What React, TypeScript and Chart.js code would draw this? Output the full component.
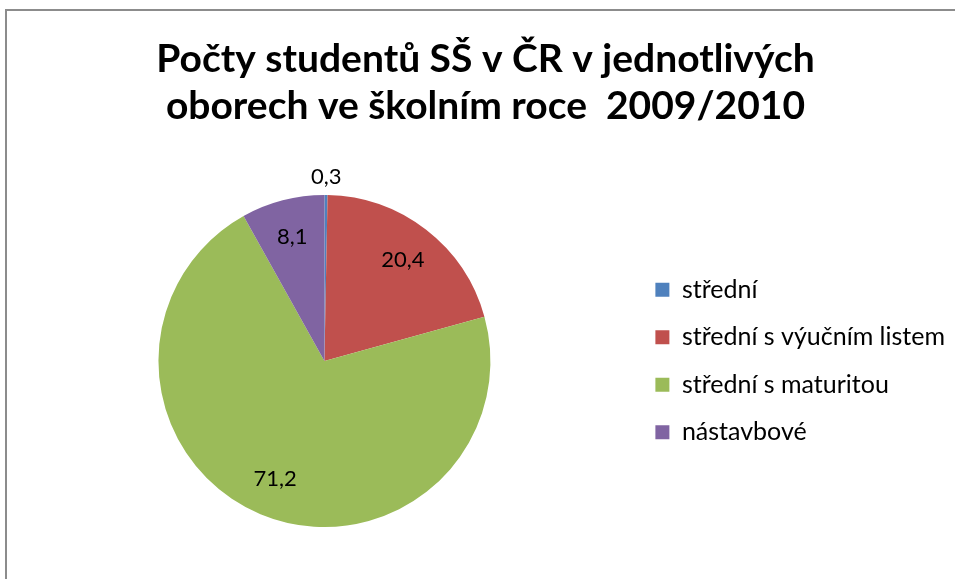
import React, { useEffect, useRef } from "react";
import { Chart, registerables } from "chart.js";

Chart.register(...registerables);

const titleLines = ["Počty studentů SŠ v ČR v jednotlivých", "oborech ve školním roce  2009/2010"];
const categories = ["střední", "střední s výučním listem", "střední s maturitou", "nástavbové"];
const shares = [0.3, 20.4, 71.2, 8.1];
const colors = ["#4F81BD", "#C0504D", "#9BBB59", "#8064A2"];

const fontFamily = "Lato, 'Open Sans', sans-serif";

const titleSize = 39;
const titleLineHeight = 46.8;
const titleTop = 36;
const padLeft = 16;

const headerTitle = {
  id: "headerTitle",
  afterDraw(chart: any) {
    const ctx = chart.ctx;
    ctx.save();
    ctx.font = `bold ${titleSize}px ${fontFamily}`;
    ctx.fillStyle = "#000";
    ctx.textAlign = "center";
    ctx.textBaseline = "middle";
    const cx = (padLeft + chart.width) / 2;
    titleLines.forEach((line, i) => {
      ctx.fillText(line, cx, titleTop + titleLineHeight / 2 + i * titleLineHeight);
    });
    ctx.restore();
  },
};

const sliceLabels = {
  id: "sliceLabels",
  afterDatasetsDraw(chart: any) {
    const ctx = chart.ctx;
    const meta = chart.getDatasetMeta(0);
    ctx.save();
    ctx.font = `22px ${fontFamily}`;
    ctx.fillStyle = "#000";
    ctx.textAlign = "center";
    ctx.textBaseline = "middle";
    meta.data.forEach((arc: any, i: number) => {
      const p = arc.getProps(["x", "y", "startAngle", "endAngle", "outerRadius"], true);
      const mid = (p.startAngle + p.endAngle) / 2;
      const span = p.endAngle - p.startAngle;
      const r = span < 0.1 ? p.outerRadius + 18 : p.outerRadius * 0.77;
      const text = shares[i].toFixed(1).replace(".", ",");
      ctx.fillText(text, p.x + Math.cos(mid) * r, p.y + Math.sin(mid) * r);
    });
    ctx.restore();
  },
};

export default function App() {
  const ref = useRef<HTMLCanvasElement>(null);
  useEffect(() => {
    document.body.style.margin = "0";
    const chart = new Chart(ref.current!, {
      type: "pie",
      data: {
        labels: categories,
        datasets: [
          {
            data: shares,
            backgroundColor: colors,
            borderWidth: 0,
          },
        ],
      },
      options: {
        animation: false,
        responsive: false,
        layout: { padding: { left: padLeft, right: 0, top: 195, bottom: 52 } },
        plugins: {
          tooltip: { enabled: false },
          title: { display: false },
          legend: {
            position: "right",
            align: "center",
            labels: {
              color: "#000",
              font: { family: fontFamily, size: 25 },
              boxWidth: 14,
              boxHeight: 14,
              padding: 22.5,
            },
          },
        },
      },
      plugins: [sliceLabels, headerTitle],
    });
    return () => chart.destroy();
  }, []);
  return (
    <div style={{ position: "relative", width: 955, height: 579, overflow: "hidden", background: "#fff" }}>
      <canvas ref={ref} width={955} height={579} style={{ position: "absolute", left: 0, top: 0 }} />
      <div
        style={{
          position: "absolute",
          left: 5,
          top: 9,
          width: 1000,
          height: 1000,
          border: "2px solid #8c8c8c",
          pointerEvents: "none",
        }}
      />
    </div>
  );
}
